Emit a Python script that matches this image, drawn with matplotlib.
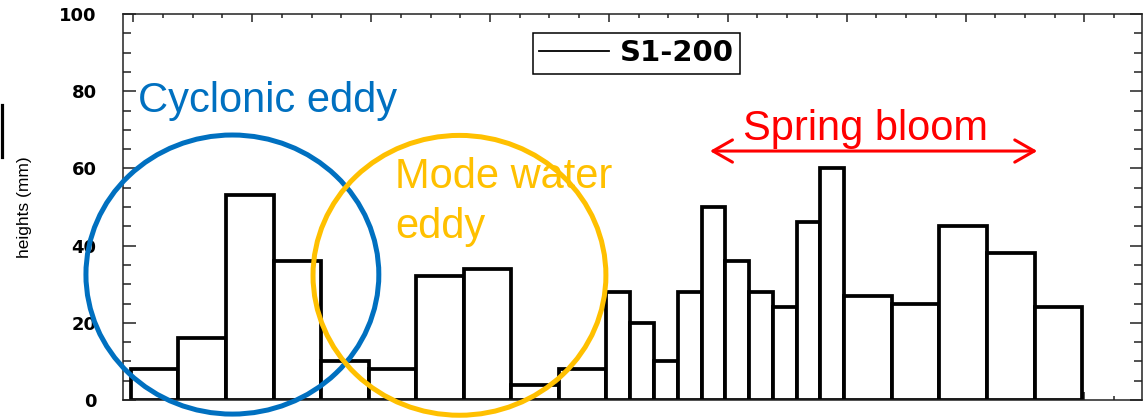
import matplotlib
matplotlib.use("Agg")
import matplotlib.pyplot as plt
from matplotlib.patches import Ellipse
from matplotlib.lines import Line2D
from matplotlib.ticker import MultipleLocator
import numpy as np

# sample intervals (days) and collected heights (mm)
bin_edges = [0, 12, 24, 36, 48, 60, 72, 84, 96, 108, 120, 126, 132, 138, 144,
             150, 156, 162, 168, 174, 180, 192, 204, 216, 228, 240]
heights = [8, 16, 53, 36, 10, 8, 32, 34, 4, 8, 28, 20, 10, 28, 50, 36, 28, 24,
           46, 60, 27, 25, 45, 38, 24]
y_ticks = [0, 20, 40, 60, 80, 100]
series_name = "S1-200"

edges = np.array(bin_edges, dtype=float)
widths = np.diff(edges)

fig = plt.figure(figsize=(11.48, 4.18), dpi=100)
ax = fig.add_axes([123/1148, 1-400/418, (1142.3-123)/1148, (400-14)/418])

ax.bar(edges[:-1], heights, width=widths, align="edge", facecolor="white",
       edgecolor="black", linewidth=2.7, zorder=2)

ax.set_xlim(-2.0, 255.2)
ax.set_ylim(0, 100)
ax.set_yticks(y_ticks)
ax.yaxis.set_minor_locator(MultipleLocator(5))
ax.xaxis.set_major_locator(MultipleLocator(30, offset=0.6))
ax.xaxis.set_minor_locator(MultipleLocator(7.5, offset=0.6))
ax.set_xticklabels([])
for lab in ax.get_yticklabels():
    lab.set_fontfamily("DejaVu Sans")
    lab.set_fontweight("bold")
    lab.set_fontsize(13)

ax.tick_params(which="both", direction="in", top=True, right=True,
               color="#222222", width=1.1)
ax.tick_params(axis="y", which="major", length=9, pad=19)
ax.tick_params(axis="y", which="minor", length=6)
ax.tick_params(axis="x", which="major", length=6)
ax.tick_params(axis="x", which="minor", length=3)
for sp in ax.spines.values():
    sp.set_color("#222222")
    sp.set_linewidth(1.1)

fig.text(25/1148, 1-207/418, "heights (mm)", rotation=90, ha="center",
         va="center", fontsize=12.5, family="Liberation Sans")

# stray black mark at the far left edge
fig.add_artist(Line2D([1.5/1148, 1.5/1148], [1-105/418, 1-157/418],
                      color="black", lw=2.3))

leg = ax.legend(handles=[Line2D([], [], color="black", lw=1.3)],
                labels=[series_name], loc="upper left",
                bbox_to_anchor=(0.402, 0.951), borderaxespad=0,
                fancybox=False, edgecolor="black", framealpha=1,
                handlelength=2.4, handletextpad=0.35, borderpad=0.22,
                prop={"family": "DejaVu Sans", "weight": "bold", "size": 21})
leg.get_frame().set_linewidth(1.1)

# annotations
blue = "#0070C0"
yellow = "#FFC000"
ax.add_patch(Ellipse((25.6, 32.5), 73.9, 72.3, fill=False, edgecolor=blue,
                     lw=3.6, clip_on=False, zorder=3))
ax.add_patch(Ellipse((82.9, 32.3), 73.9, 72.5, fill=False, edgecolor=yellow,
                     lw=3.6, clip_on=False, zorder=3))
ax.text(1.8, 74.6, "Cyclonic eddy", color=blue, fontsize=30,
        family="Liberation Sans", va="baseline", ha="left")
ax.text(66.6, 54.9, "Mode water", color=yellow, fontsize=30,
        family="Liberation Sans", va="baseline", ha="left")
ax.text(66.6, 42.0, "eddy", color=yellow, fontsize=30,
        family="Liberation Sans", va="baseline", ha="left")
ax.text(154.5, 67.4, "Spring bloom", color="red", fontsize=30,
        family="Liberation Sans", va="baseline", ha="left")
ax.annotate("", xy=(228.7, 64.5), xytext=(146.1, 64.5),
            arrowprops=dict(arrowstyle="<->,head_length=1.4,head_width=0.8",
                            color="red", lw=2.2, shrinkA=0, shrinkB=0,
                            mutation_scale=10))

fig.savefig("out.png", dpi=100)
